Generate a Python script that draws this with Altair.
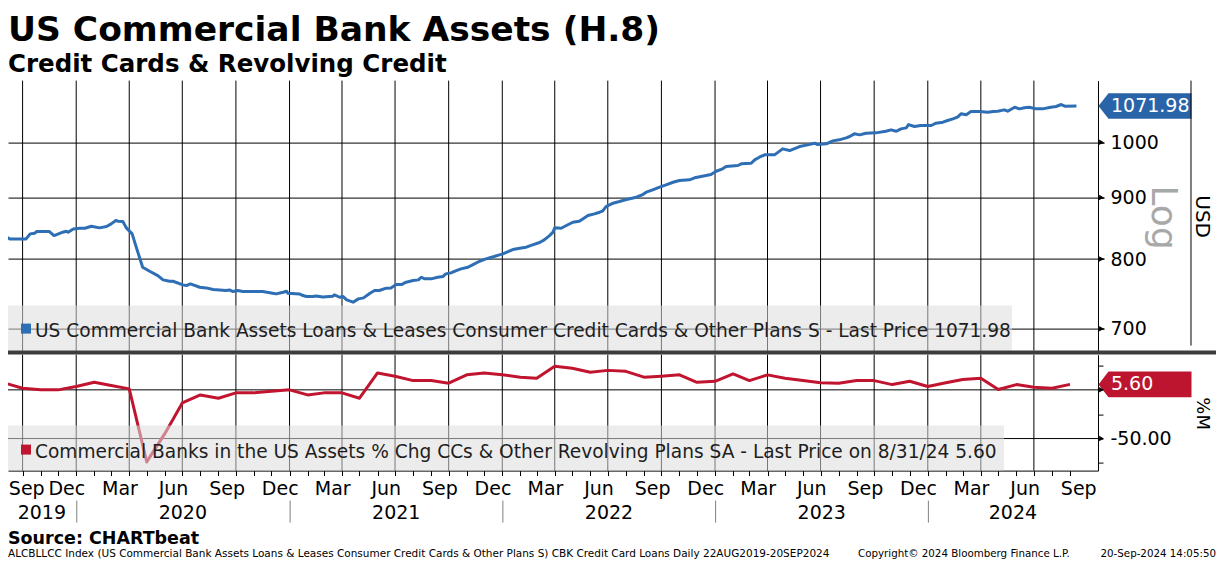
import calendar
import altair as alt
import pandas as pd

FONT = "DejaVu Sans"
BLUE = "#2d6eb4"
BLUE_LBL = "#2a64a8"
RED = "#c0142f"
RED_LBL = "#bd1530"

# ---------------- data ----------------
top_dates = [
    "2019-08-22", "2019-09-02", "2019-09-08", "2019-10-06", "2019-10-13", "2019-10-21", "2019-10-24",
    "2019-11-15", "2019-11-23", "2019-12-08", "2019-12-14", "2019-12-17", "2019-12-26", "2020-01-06",
    "2020-01-15", "2020-01-26", "2020-02-09", "2020-02-21", "2020-02-29", "2020-03-08", "2020-03-12",
    "2020-03-20", "2020-03-26", "2020-04-05", "2020-04-12", "2020-04-23", "2020-05-05", "2020-05-19",
    "2020-05-28", "2020-06-08", "2020-06-14", "2020-07-01", "2020-07-07", "2020-07-14", "2020-07-30",
    "2020-08-10", "2020-08-22", "2020-09-13", "2020-09-19", "2020-09-25", "2020-10-03", "2020-10-12",
    "2020-11-15", "2020-12-02", "2020-12-08", "2020-12-20", "2020-12-26", "2020-12-28", "2021-01-17",
    "2021-01-23", "2021-01-29", "2021-02-09", "2021-02-15", "2021-02-26", "2021-03-15", "2021-03-18",
    "2021-03-27", "2021-04-02", "2021-04-08", "2021-04-19", "2021-04-28", "2021-05-07", "2021-05-18",
    "2021-05-26", "2021-06-03", "2021-06-15", "2021-06-23", "2021-07-02", "2021-07-11", "2021-07-19",
    "2021-07-31", "2021-08-09", "2021-08-14", "2021-08-20", "2021-08-31", "2021-09-11", "2021-09-20",
    "2021-09-25", "2021-10-04", "2021-10-13", "2021-10-21", "2021-11-02", "2021-11-10", "2021-11-22",
    "2021-12-03", "2021-12-17", "2021-12-26", "2022-01-01", "2022-01-10", "2022-01-18", "2022-01-30",
    "2022-02-10", "2022-02-21", "2022-03-05", "2022-03-13", "2022-03-22", "2022-03-28", "2022-03-31",
    "2022-04-11", "2022-04-20", "2022-05-01", "2022-05-12", "2022-05-18", "2022-05-27", "2022-06-07",
    "2022-06-16", "2022-06-21", "2022-06-27", "2022-07-09", "2022-07-20", "2022-08-01", "2022-08-18",
    "2022-08-29", "2022-09-04", "2022-09-15", "2022-09-27", "2022-10-08", "2022-10-20", "2022-10-31",
    "2022-11-17", "2022-11-26", "2022-12-07", "2022-12-24", "2023-01-02", "2023-01-13", "2023-01-19",
    "2023-02-08", "2023-02-14", "2023-03-03", "2023-03-09", "2023-03-17", "2023-03-26", "2023-04-12",
    "2023-04-26", "2023-05-08", "2023-05-25", "2023-06-08", "2023-06-20", "2023-06-25", "2023-07-10",
    "2023-07-21", "2023-08-01", "2023-08-13", "2023-08-19", "2023-08-27", "2023-09-05", "2023-09-16",
    "2023-10-03", "2023-10-20", "2023-10-29", "2023-11-07", "2023-11-15", "2023-11-24", "2023-11-28",
    "2023-12-08", "2023-12-19", "2024-01-06", "2024-01-14", "2024-01-26", "2024-02-03", "2024-02-12",
    "2024-02-20", "2024-02-26", "2024-03-06", "2024-03-14", "2024-03-29", "2024-04-12", "2024-04-21",
    "2024-04-29", "2024-05-10", "2024-05-16", "2024-05-28", "2024-06-05", "2024-06-14", "2024-06-22",
    "2024-07-04", "2024-07-15", "2024-07-29", "2024-08-07", "2024-08-16", "2024-08-22", "2024-09-11",
]
top_vals = [
    831.4, 834.1, 831.4, 831.4, 839.4, 840.5, 843.1,
    843.1, 836.7, 842.1, 843.7, 842.1, 847.4, 848.5,
    848.5, 851.8, 849.1, 851.2, 855.6, 861.1, 860.0,
    859.4, 849.1, 839.4, 818.3, 787.5, 781.5, 775.1,
    768.7, 766.7, 766.7, 761.4, 760.4, 762.8, 758.0,
    757.0, 754.6, 753.2, 754.1, 751.7, 753.2, 751.7,
    751.7, 749.4, 748.4, 750.8, 752.2, 749.4, 748.4,
    746.0, 744.6, 744.6, 745.5, 744.1, 745.1, 747.0,
    743.6, 744.6, 739.9, 736.6, 741.3, 742.7, 749.4,
    753.2, 753.2, 756.6, 757.0, 761.9, 761.9, 765.3,
    767.7, 768.7, 772.6, 770.2, 770.2, 772.6, 773.6,
    777.6, 779.1, 782.5, 785.1, 787.5, 791.1, 796.6,
    800.2, 803.8, 806.4, 807.9, 811.5, 814.6, 816.7,
    818.3, 821.9, 825.6, 829.8, 836.7, 842.1, 849.1,
    848.5, 852.9, 858.3, 860.0, 863.8, 869.3, 872.1,
    874.9, 876.6, 884.4, 890.1, 892.9, 896.3, 900.3,
    904.9, 909.0, 913.1, 917.7, 921.8, 926.5, 929.5,
    930.7, 934.3, 936.6, 940.2, 946.2, 950.5, 954.7,
    956.6, 959.6, 960.8, 967.0, 971.9, 976.3, 976.3,
    987.5, 984.4, 991.9, 995.1, 998.3, 995.7, 997.0,
    1002.7, 1004.7, 1008.5, 1011.1, 1016.3, 1014.3, 1017.5,
    1018.2, 1021.4, 1024.1, 1021.4, 1026.0, 1028.0, 1034.5,
    1030.6, 1032.6, 1032.6, 1037.2, 1039.2, 1042.5, 1045.8,
    1049.2, 1055.9, 1053.9, 1060.6, 1060.6, 1059.2, 1060.6,
    1061.3, 1064.0, 1061.3, 1069.4, 1066.0, 1068.1, 1069.4,
    1066.0, 1066.0, 1069.4, 1070.8, 1074.9, 1071.5, 1071.98,
]
# monthly % change (annualised), Aug 2019 .. Aug 2024, month-end observations
chg_vals = [
    6.8, 1.7, 0.0, 0.0, 3.5,
    7.8, 4.5, 1.0, -74.0, -45.0, -13.4, -5.2, -8.6, -3.1, -3.1, -1.5, 0.0,
    -5.2, -3.1, -3.1, -8.6, 17.4, 14.0, 9.5, 9.5, 6.8, 15.4, 17.4, 15.4,
    13.0, 11.9, 24.2, 22.2, 18.0, 20.0, 19.0, 13.0, 14.0, 15.4, 7.8, 8.8,
    16.4, 9.5, 15.4, 11.9, 9.5, 7.2, 6.8, 9.5, 9.5, 5.4, 8.8, 3.4,
    7.2, 10.6, 11.9, 0.3, 5.4, 2.7, 1.7, 5.6,
]
last_top = 1071.98
last_chg = 5.60
top_ticks = [700, 800, 900, 1000]
bot_ticks = [25, 0, -25, -50, -75]
bot_major = [0, -50]

title = "US Commercial Bank Assets (H.8)"
subtitle = "Credit Cards & Revolving Credit"
legend_top = ("US Commercial Bank Assets Loans & Leases Consumer Credit Cards & Other Plans S"
              " - Last Price 1071.98")
legend_bot = ("Commercial Banks in the US Assets % Chg CCs & Other Revolving Plans SA"
              " - Last Price on 8/31/24 5.60")
source = "Source: CHARTbeat"
foot1 = ("ALCBLLCC Index (US Commercial Bank Assets Loans & Leases Consumer Credit Cards & "
         "Other Plans S) CBK Credit Card Loans  Daily 22AUG2019-20SEP2024")
foot2 = "Copyright\u00a9 2024 Bloomberg Finance L.P."
foot3 = "20-Sep-2024 14:05:50"


def month_end(y, m):
    return f"{y}-{m:02d}-{calendar.monthrange(y, m)[1]:02d}"


chg_dates = []
y, m = 2019, 8
for _ in chg_vals:
    chg_dates.append(month_end(y, m))
    m += 1
    if m > 12:
        y, m = y + 1, 1

quarter_ends = [month_end(yy, mm) for yy in range(2019, 2025) for mm in (3, 6, 9, 12)
                if (2019, 9) <= (yy, mm) <= (2024, 6)]
month_tick_dates = chg_dates[1:]
mlabels = [(f"{yy}-{mm:02d}-15", calendar.month_abbr[mm]) for yy in range(2019, 2025)
           for mm in (3, 6, 9, 12) if (2019, 9) <= (yy, mm) <= (2024, 9)]

# visible time window of the plot
dom0 = pd.Timestamp("2019-09-05")
dom1 = pd.Timestamp("2024-10-18")
years = list(range(2019, 2025))
year_mid = []
for yy in years:
    a = max(pd.Timestamp(f"{yy}-01-01"), dom0)
    b = min(pd.Timestamp(f"{yy}-12-31"), dom1)
    year_mid.append((a + (b - a) / 2).strftime("%Y-%m-%d"))
year_starts = [f"{yy}-01-01" for yy in range(2020, 2025)]

# ---------------- layout ----------------
W, H1, H2 = 1090, 270, 116
RIGHT = W + 118


def dt(ts):
    ts = pd.Timestamp(ts)
    return alt.DateTime(year=ts.year, month=ts.month, date=ts.day, utc=True)


xs = alt.Scale(domain=[dt(dom0), dt(dom1)])


def X(axis=None):
    return alt.X("date:T", scale=xs, axis=axis)


one = pd.DataFrame({"k": [0]})


def txt(text, x, y, **kw):
    props = dict(font=FONT, align="left", baseline="alphabetic", color="black")
    props.update(kw)
    return alt.Chart(pd.DataFrame({"t": [text]})).mark_text(**props).encode(
        x=alt.value(x), y=alt.value(y), text="t:N")


LBL_PATH = "M-1,0L-0.785,-0.275L1,-0.275L1,0.275L-0.785,0.275Z"

# ---------------- top panel ----------------
ys_top = alt.Scale(type="log", domain=[671.5, 1125.2], nice=False)
top_df = pd.DataFrame({"date": top_dates, "value": top_vals})
q_df = pd.DataFrame({"date": quarter_ends})

top_axis = alt.Axis(orient="right", values=top_ticks, format="d", grid=True, gridColor="black",
                    gridWidth=1, domainColor="black", domainWidth=1, tickColor="black",
                    tickSize=6, tickWidth=1.5, labelFont=FONT, labelFontSize=19,
                    labelColor="black", labelPadding=6, title=None)


def YT(field="value"):
    return alt.Y(f"{field}:Q", scale=ys_top, axis=top_axis)


t_vgrid = alt.Chart(q_df).mark_rule(color="black", strokeWidth=1).encode(
    x=X(), y=alt.value(0), y2=alt.value(H1))
t_line = alt.Chart(top_df).mark_line(color=BLUE, strokeWidth=3, clip=True,
                                     strokeJoin="round").encode(x=X(), y=YT())
t_box = alt.Chart(one).mark_rect(fill="#dcdcdc", opacity=0.55).encode(
    x=alt.value(0), x2=alt.value(1004), y=alt.value(H1 - 45), y2=alt.value(H1))
t_sq = alt.Chart(one).mark_square(size=100, color=BLUE, opacity=1).encode(
    x=alt.value(18), y=alt.value(H1 - 22))
t_leg = txt(legend_top, 27, H1 - 14, fontSize=18.6, color="#1e1e1e")
last_df = pd.DataFrame({"value": [last_top], "t": [f"{last_top:.2f}"]})
t_lbl = alt.Chart(last_df).mark_point(shape=LBL_PATH, size=93 * 93, filled=True,
                                       color=BLUE_LBL, opacity=1).encode(
    x=alt.value(W + 47), y=YT())
t_lbl_t = alt.Chart(last_df).mark_text(font=FONT, fontSize=19, color="white", align="left",
                                        baseline="middle").encode(
    x=alt.value(W + 13), y=YT(), text="t:N")
tick_df_top = pd.DataFrame({"value": top_ticks})
t_arrows = alt.Chart(tick_df_top).mark_point(shape="triangle-right", size=30, filled=True,
                                              color="black", opacity=1).encode(
    x=alt.value(W + 3.5), y=YT())
t_log = txt("Log", W + 65, 137, fontSize=36, color="#a8a8a8", angle=90, align="center",
            baseline="middle")
t_usd = txt("USD", W + 104, 136, fontSize=20, angle=90, align="center", baseline="middle")
t_frame = alt.Chart(one).mark_rule(color="black", strokeWidth=1).encode(
    x=alt.value(W + 93), y=alt.value(0), y2=alt.value(H1 - 5))
t_title = txt(title, 0, -39.8, fontSize=34.5, fontWeight="bold")
t_sub = txt(subtitle, 0, -8.6, fontSize=24.5, fontWeight="bold")

top = alt.layer(t_vgrid, t_line, t_box, t_sq, t_leg, t_lbl, t_lbl_t, t_arrows, t_log, t_usd,
                t_frame, t_title, t_sub).properties(width=W, height=H1)

# ---------------- bottom panel ----------------
ys_bot = alt.Scale(domain=[-82.9, 36.2], nice=False, zero=False)
chg_df = pd.DataFrame({"date": chg_dates, "chg": chg_vals})
bot_axis = alt.Axis(orient="right", values=bot_ticks,
                    labelExpr="datum.value == -50 ? '-50.00' : ''", grid=False,
                    domainColor="black", tickColor="black", tickSize=5, tickWidth=1,
                    labelFont=FONT, labelFontSize=19, labelColor="black", labelPadding=7,
                    labelOverlap=False, title=None)
mticks = [dt(d) for d in month_tick_dates]
x_axis = alt.Axis(values=mticks, labels=False, ticks=True, tickSize=5, tickColor="black",
                  domainColor="black", grid=False, title=None, orient="bottom")


def XB():
    return X(x_axis)


def YB():
    return alt.Y("chg:Q", scale=ys_bot, axis=bot_axis)


b_vgrid = alt.Chart(q_df).mark_rule(color="black", strokeWidth=1).encode(
    x=XB(), y=alt.value(0), y2=alt.value(H2))
b_hgrid = alt.Chart(pd.DataFrame({"chg": bot_major})).mark_rule(color="black",
                                                                 clip=True).encode(
    y=YB(), x=alt.value(0), x2=alt.value(W))
b_line = alt.Chart(chg_df).mark_line(color=RED, strokeWidth=3, clip=True,
                                     strokeJoin="round").encode(x=XB(), y=YB())
b_box = alt.Chart(one).mark_rect(fill="#dcdcdc", opacity=0.55).encode(
    x=alt.value(0), x2=alt.value(996), y=alt.value(H2 - 45), y2=alt.value(H2))
b_sq = alt.Chart(one).mark_square(size=100, color=RED, opacity=1).encode(
    x=alt.value(18), y=alt.value(H2 - 21))
b_leg = txt(legend_bot, 27, H2 - 13, fontSize=18.6, color="#1e1e1e")
lastc_df = pd.DataFrame({"chg": [last_chg], "t": [f"{last_chg:.2f}"]})
b_lbl = alt.Chart(lastc_df).mark_point(shape=LBL_PATH, size=93 * 93, filled=True,
                                        color=RED_LBL, opacity=1).encode(
    x=alt.value(W + 47), y=YB())
b_lbl_t = alt.Chart(lastc_df).mark_text(font=FONT, fontSize=19, color="white", align="left",
                                         baseline="middle").encode(
    x=alt.value(W + 13), y=YB(), text="t:N")
b_arrows = alt.Chart(pd.DataFrame({"chg": bot_major})).mark_point(
    shape="triangle-right", size=30, filled=True, color="black", opacity=1).encode(
    x=alt.value(W + 3.5), y=YB())
b_pct = txt("%M", W + 104, 59, fontSize=18, angle=90, align="center", baseline="middle")
b_bar = alt.Chart(one).mark_rect(fill="#3c3c3c").encode(
    x=alt.value(0), x2=alt.value(RIGHT), y=alt.value(-4), y2=alt.value(0))

ml_df = pd.DataFrame({"date": [d for d, _ in mlabels[1:]], "lab": [l for _, l in mlabels[1:]]})
ml_first = pd.DataFrame({"date": [mlabels[0][0]], "lab": [mlabels[0][1]]})
b_mlab = alt.Chart(ml_df).mark_text(font=FONT, fontSize=19, color="black", align="center",
                                     baseline="alphabetic").encode(
    x=XB(), y=alt.value(H2 + 24), text="lab:N")
b_mlab0 = alt.Chart(ml_first).mark_text(font=FONT, fontSize=19, color="black", align="left",
                                         baseline="alphabetic", dx=-5).encode(
    x=XB(), y=alt.value(H2 + 24), text="lab:N")
yl_df = pd.DataFrame({"date": year_mid, "lab": [str(v) for v in years]})
b_ylab = alt.Chart(yl_df).mark_text(font=FONT, fontSize=19, color="black", align="center",
                                     baseline="alphabetic").encode(
    x=XB(), y=alt.value(H2 + 48), text="lab:N")
b_ysep = alt.Chart(pd.DataFrame({"date": year_starts})).mark_rule(
    color="#808080", strokeWidth=1).encode(x=XB(), y=alt.value(H2 + 30), y2=alt.value(H2 + 52))
b_src = txt(source, 0, H2 + 73, fontSize=17.5, fontWeight="bold")
b_f1 = txt(foot1, 0, H2 + 86, fontSize=10.5)
b_f2 = txt(foot2, 850, H2 + 86, fontSize=10.3)
b_f3 = txt(foot3, RIGHT, H2 + 86, fontSize=10.3, align="right")

bottom = alt.layer(b_vgrid, b_hgrid, b_line, b_box, b_sq, b_leg, b_lbl, b_lbl_t, b_arrows,
                   b_pct, b_bar, b_mlab, b_mlab0, b_ylab, b_ysep, b_src, b_f1, b_f2,
                   b_f3).properties(width=W, height=H2)

chart = alt.vconcat(top, bottom, spacing=4, bounds="flush").properties(
    padding={"left": 0, "top": 4.6, "right": 0, "bottom": 0},
    background="white",
).configure_view(stroke=None)

chart.save("out.html", embed_options={"renderer": "svg", "actions": False})
